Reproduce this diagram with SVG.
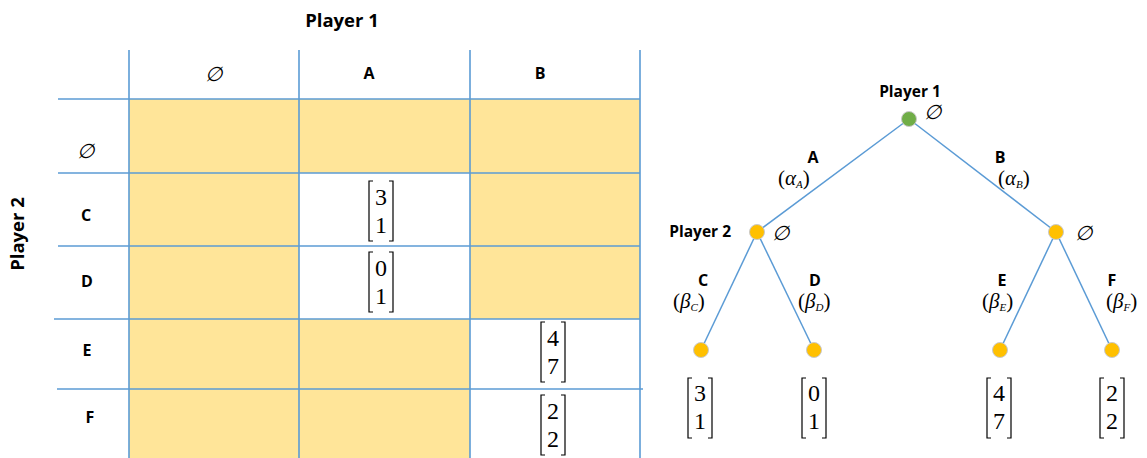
<svg xmlns="http://www.w3.org/2000/svg" width="1147" height="458" viewBox="0 0 1147 458">
<style>
.lbl{font-family:"Open Sans","Liberation Sans",sans-serif;font-weight:bold;fill:#000}
.let{font-size:16px;text-anchor:middle}
.grid{stroke:#5B9BD5;stroke-width:1.6;fill:none}
.cell{fill:#FFE599}
.edge{stroke:#5B9BD5;stroke-width:1.5;fill:none}
.num{font-family:"Liberation Serif","Times New Roman",serif;font-size:24px;fill:#000;text-anchor:middle}
.brk{stroke:#000;stroke-width:1.2;fill:none}
.phi{font-family:"DejaVu Serif","Liberation Serif",serif;font-style:italic;font-size:20px;fill:#000;text-anchor:middle}
.greek{font-family:"Liberation Serif","Times New Roman",serif;font-size:21px;fill:#000}
.p1{fill:#70AD47;stroke:#C9C9C9;stroke-width:1}
.p2{fill:#FFC000;stroke:#C9C9C9;stroke-width:1}
</style>
<defs>
<g id="brackets">
<path class="brk" d="M-8,0 h-4 v60 h4 M8,0 h4 v60 h-4"/>
</g>
</defs>
<rect width="1147" height="458" fill="#fff"/>

<g id="table">
<g id="cells">
<rect class="cell" x="129" y="99" width="511" height="74"/>
<rect class="cell" x="129" y="173" width="170" height="285"/>
<rect class="cell" x="470" y="173" width="170" height="146"/>
<rect class="cell" x="299" y="319" width="171" height="139"/>
</g>
<g id="gridlines" class="grid">
<line x1="129" y1="50" x2="129" y2="458"/>
<line x1="299" y1="50" x2="299" y2="458"/>
<line x1="470" y1="50" x2="470" y2="458"/>
<line x1="640" y1="50" x2="640" y2="458"/>
<line x1="58" y1="99" x2="640" y2="99"/>
<line x1="58" y1="173" x2="640" y2="173"/>
<line x1="58" y1="246" x2="640" y2="246"/>
<line x1="54" y1="319" x2="640" y2="319"/>
<line x1="57" y1="389" x2="643" y2="389"/>
</g>
<g id="table-labels">
<text class="lbl" x="342" y="27" font-size="18.5" text-anchor="middle">Player 1</text>
<text class="lbl" font-size="18.5" text-anchor="middle" transform="translate(24,234) rotate(-90)">Player 2</text>
<text class="phi" x="213" y="81">∅</text>
<text class="lbl let" x="369" y="79">A</text>
<text class="lbl let" x="540" y="79">B</text>
<text class="phi" x="85" y="158">∅</text>
<text class="lbl let" x="86" y="221">C</text>
<text class="lbl let" x="87" y="287">D</text>
<text class="lbl let" x="87" y="356">E</text>
<text class="lbl let" x="90" y="423">F</text>
</g>
<g id="table-payoffs">
<g transform="translate(381,181)"><use href="#brackets"/><text class="num" x="0" y="24">3</text><text class="num" x="0" y="52">1</text></g>
<g transform="translate(381,252)"><use href="#brackets"/><text class="num" x="0" y="24">0</text><text class="num" x="0" y="52">1</text></g>
<g transform="translate(553,322)"><use href="#brackets"/><text class="num" x="0" y="24">4</text><text class="num" x="0" y="52">7</text></g>
<g transform="translate(553,395)"><use href="#brackets"/><text class="num" x="0" y="24">2</text><text class="num" x="0" y="52">2</text></g>
</g>
</g>

<g id="connectors">
<line class="edge" x1="909" y1="119" x2="757" y2="232"/>
<line class="edge" x1="909" y1="119" x2="1056" y2="232"/>
<line class="edge" x1="757" y1="232" x2="701" y2="350"/>
<line class="edge" x1="757" y1="232" x2="814" y2="350"/>
<line class="edge" x1="1056" y1="232" x2="1000" y2="350"/>
<line class="edge" x1="1056" y1="232" x2="1112" y2="350"/>
</g>
<g id="edge-labels">
<text class="lbl let" x="813" y="163">A</text>
<text class="greek" x="778" y="185">(<tspan font-style="italic">α</tspan><tspan font-style="italic" font-size="11" dy="3">A</tspan><tspan dy="-3">)</tspan></text>
<text class="lbl let" x="1000" y="163">B</text>
<text class="greek" x="998" y="185">(<tspan font-style="italic">α</tspan><tspan font-style="italic" font-size="11" dy="3">B</tspan><tspan dy="-3">)</tspan></text>
<text class="lbl let" x="703" y="286">C</text>
<text class="greek" x="673" y="308">(<tspan font-style="italic">β</tspan><tspan font-style="italic" font-size="11" dy="3">C</tspan><tspan dy="-3">)</tspan></text>
<text class="lbl let" x="815" y="286">D</text>
<text class="greek" x="798" y="308">(<tspan font-style="italic">β</tspan><tspan font-style="italic" font-size="11" dy="3">D</tspan><tspan dy="-3">)</tspan></text>
<text class="lbl let" x="1002" y="286">E</text>
<text class="greek" x="982" y="308">(<tspan font-style="italic">β</tspan><tspan font-style="italic" font-size="11" dy="3">E</tspan><tspan dy="-3">)</tspan></text>
<text class="lbl let" x="1112" y="286">F</text>
<text class="greek" x="1106" y="308">(<tspan font-style="italic">β</tspan><tspan font-style="italic" font-size="11" dy="3">F</tspan><tspan dy="-3">)</tspan></text>
</g>

<g id="node-root">
<circle class="p1" cx="909" cy="119" r="7.5"/>
<text class="lbl" x="910" y="97" font-size="15.5" text-anchor="middle">Player 1</text>
<text class="phi" x="932" y="119">∅</text>
</g>
<g id="node-p2-left">
<circle class="p2" cx="757" cy="232" r="7.5"/>
<text class="lbl" x="731" y="237" font-size="15.5" text-anchor="end">Player 2</text>
<text class="phi" x="780" y="240">∅</text>
</g>
<g id="node-p2-right">
<circle class="p2" cx="1056" cy="232" r="7.5"/>
<text class="phi" x="1083" y="240">∅</text>
</g>
<g id="leaf-C">
<circle class="p2" cx="701" cy="350" r="7.5"/>
<g transform="translate(700,378)"><use href="#brackets"/><text class="num" x="0" y="23">3</text><text class="num" x="0" y="51">1</text></g>
</g>
<g id="leaf-D">
<circle class="p2" cx="814" cy="350" r="7.5"/>
<g transform="translate(814,378)"><use href="#brackets"/><text class="num" x="0" y="23">0</text><text class="num" x="0" y="51">1</text></g>
</g>
<g id="leaf-E">
<circle class="p2" cx="1000" cy="350" r="7.5"/>
<g transform="translate(999,378)"><use href="#brackets"/><text class="num" x="0" y="23">4</text><text class="num" x="0" y="51">7</text></g>
</g>
<g id="leaf-F">
<circle class="p2" cx="1112" cy="350" r="7.5"/>
<g transform="translate(1112,378)"><use href="#brackets"/><text class="num" x="0" y="23">2</text><text class="num" x="0" y="51">2</text></g>
</g>
</svg>
